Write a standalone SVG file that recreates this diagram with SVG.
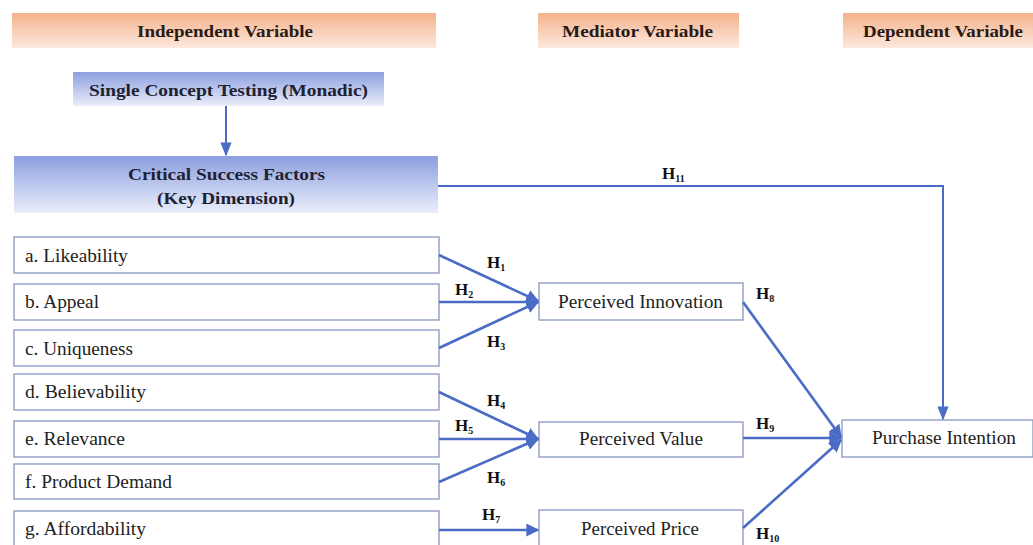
<svg xmlns="http://www.w3.org/2000/svg" width="1033" height="545" viewBox="0 0 1033 545">
<defs>
<linearGradient id="gOrange" x1="0" y1="0" x2="0" y2="1">
<stop offset="0" stop-color="#f4b28c"/>
<stop offset="1" stop-color="#fde8dc"/>
</linearGradient>
<linearGradient id="gBlue" x1="0" y1="0" x2="0" y2="1">
<stop offset="0" stop-color="#8c9fe0"/>
<stop offset="1" stop-color="#eaeefa"/>
</linearGradient>
<marker id="arr" viewBox="0 0 10 10" refX="9" refY="5" markerWidth="5" markerHeight="5" orient="auto" markerUnits="strokeWidth">
<path d="M0,0 L10,5 L0,10 z" fill="#4a6cc6"/>
</marker>
<marker id="arrS" viewBox="0 0 10 10" refX="9" refY="5" markerWidth="7" markerHeight="7" orient="auto" markerUnits="strokeWidth">
<path d="M0,1 L10,5 L0,9 z" fill="#4a6cc6"/>
</marker>
</defs>
<style>
text{font-family:"Liberation Serif","Times New Roman","DejaVu Serif",serif;}
.hdr{fill:url(#gOrange);}
.blue{fill:url(#gBlue);}
.box{fill:#ffffff;stroke:#8796bd;stroke-width:1.3;}
.ht{font-weight:bold;font-size:17.5px;fill:#2a1a14;text-anchor:middle;}
.bt{font-weight:bold;font-size:17.5px;fill:#1e2230;text-anchor:middle;}
.t{font-size:18.5px;fill:#222;}
.tc{font-size:18.5px;fill:#222;text-anchor:middle;}
.h{font-weight:bold;font-size:17px;fill:#111;}
.sub{font-size:10px;}
.c{stroke:#4a6cc6;stroke-width:2.6;fill:none;}
.c2{stroke:#4a6cc6;stroke-width:2;fill:none;}
</style>
<rect width="1033" height="545" fill="#ffffff"/>

<g id="hdr-independent"><rect class="hdr" x="12" y="13" width="424" height="35"/><text class="ht" x="225" y="37" textLength="176" lengthAdjust="spacingAndGlyphs">Independent Variable</text></g>
<g id="hdr-mediator"><rect class="hdr" x="538" y="13" width="201" height="35"/><text class="ht" x="637.5" y="37" textLength="151" lengthAdjust="spacingAndGlyphs">Mediator Variable</text></g>
<g id="hdr-dependent"><rect class="hdr" x="843" y="13" width="190" height="35"/><text class="ht" x="943" y="37" textLength="160" lengthAdjust="spacingAndGlyphs">Dependent Variable</text></g>

<g id="single-concept"><rect class="blue" x="73" y="72" width="311" height="34"/><text class="bt" x="228.5" y="96" textLength="279" lengthAdjust="spacingAndGlyphs">Single Concept Testing (Monadic)</text></g>
<g id="csf"><rect class="blue" x="14" y="156" width="424" height="57"/><text class="bt" x="226.5" y="180" textLength="197" lengthAdjust="spacingAndGlyphs">Critical Success Factors</text><text class="bt" x="226" y="204" textLength="138" lengthAdjust="spacingAndGlyphs">(Key Dimension)</text></g>

<g id="n-a"><rect class="box" x="14" y="237" width="425" height="36"/><text class="t" x="25" y="262" textLength="103" lengthAdjust="spacingAndGlyphs">a. Likeability</text></g>
<g id="n-b"><rect class="box" x="14" y="284" width="425" height="36"/><text class="t" x="25" y="308" textLength="74" lengthAdjust="spacingAndGlyphs">b. Appeal</text></g>
<g id="n-c"><rect class="box" x="14" y="330" width="425" height="36"/><text class="t" x="25" y="355" textLength="108" lengthAdjust="spacingAndGlyphs">c. Uniqueness</text></g>
<g id="n-d"><rect class="box" x="14" y="374" width="425" height="36"/><text class="t" x="25" y="398" textLength="121" lengthAdjust="spacingAndGlyphs">d. Believability</text></g>
<g id="n-e"><rect class="box" x="14" y="421" width="425" height="36"/><text class="t" x="25" y="445" textLength="100" lengthAdjust="spacingAndGlyphs">e. Relevance</text></g>
<g id="n-f"><rect class="box" x="14" y="464" width="425" height="35"/><text class="t" x="25" y="488" textLength="147" lengthAdjust="spacingAndGlyphs">f. Product Demand</text></g>
<g id="n-g"><rect class="box" x="14" y="511" width="425" height="40"/><text class="t" x="25" y="535" textLength="121" lengthAdjust="spacingAndGlyphs">g. Affordability</text></g>

<g id="n-pinnov"><rect class="box" x="539" y="283" width="204" height="37"/><text class="tc" x="640.5" y="308" textLength="165" lengthAdjust="spacingAndGlyphs">Perceived Innovation</text></g>
<g id="n-pvalue"><rect class="box" x="539" y="422" width="204" height="35"/><text class="tc" x="641" y="445" textLength="124" lengthAdjust="spacingAndGlyphs">Perceived Value</text></g>
<g id="n-pprice"><rect class="box" x="539" y="510" width="204" height="40"/><text class="tc" x="640" y="535" textLength="118" lengthAdjust="spacingAndGlyphs">Perceived Price</text></g>
<g id="n-purchase"><rect class="box" x="842" y="420" width="191" height="37"/><text class="tc" x="944" y="444" textLength="144" lengthAdjust="spacingAndGlyphs">Purchase Intention</text></g>

<g id="connectors">
<line class="c2" x1="226" y1="106" x2="226" y2="155" marker-end="url(#arrS)"/>
<polyline class="c2" points="438,186 943,186 943,419" marker-end="url(#arrS)"/>
<line class="c" x1="439" y1="255" x2="538" y2="301" marker-end="url(#arr)"/>
<line class="c" x1="439" y1="302" x2="538" y2="302" marker-end="url(#arr)"/>
<line class="c" x1="439" y1="348" x2="538" y2="302" marker-end="url(#arr)"/>
<line class="c" x1="439" y1="392" x2="538" y2="439" marker-end="url(#arr)"/>
<line class="c" x1="439" y1="439" x2="538" y2="439" marker-end="url(#arr)"/>
<line class="c" x1="439" y1="482" x2="538" y2="439" marker-end="url(#arr)"/>
<line class="c" x1="439" y1="530" x2="538" y2="530" marker-end="url(#arr)"/>
<line class="c" x1="743" y1="302" x2="841" y2="437" marker-end="url(#arr)"/>
<line class="c" x1="743" y1="438" x2="841" y2="438" marker-end="url(#arr)"/>
<line class="c" x1="743" y1="528" x2="841" y2="440" marker-end="url(#arr)"/>
</g>

<g id="labels">
<text class="h" x="487" y="268">H<tspan class="sub" dy="3">1</tspan></text>
<text class="h" x="455" y="295">H<tspan class="sub" dy="3">2</tspan></text>
<text class="h" x="487" y="347">H<tspan class="sub" dy="3">3</tspan></text>
<text class="h" x="487" y="406">H<tspan class="sub" dy="3">4</tspan></text>
<text class="h" x="455" y="431">H<tspan class="sub" dy="3">5</tspan></text>
<text class="h" x="487" y="483">H<tspan class="sub" dy="3">6</tspan></text>
<text class="h" x="482" y="520">H<tspan class="sub" dy="3">7</tspan></text>
<text class="h" x="756" y="299">H<tspan class="sub" dy="3">8</tspan></text>
<text class="h" x="756" y="429">H<tspan class="sub" dy="3">9</tspan></text>
<text class="h" x="756" y="539">H<tspan class="sub" dy="3">10</tspan></text>
<text class="h" x="662" y="179">H<tspan class="sub" dy="3">11</tspan></text>
</g>
</svg>
